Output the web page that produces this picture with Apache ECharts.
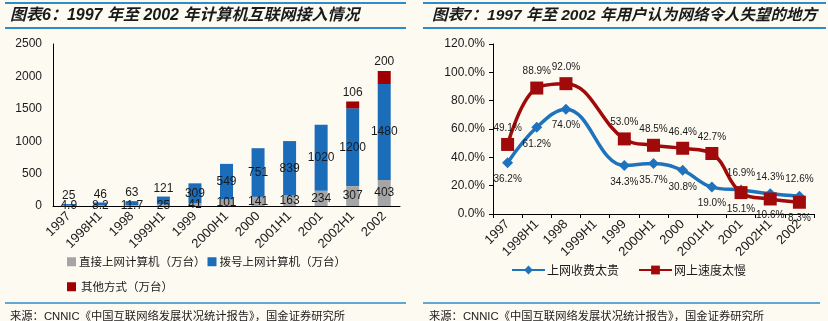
<!DOCTYPE html>
<html><head><meta charset="utf-8">
<script src="https://cdn.jsdelivr.net/npm/echarts@6/dist/echarts.min.js"></script>
<style>html,body{margin:0;padding:0;background:#fdfaf2;}#c{width:828px;height:321px;}</style>
</head><body><div id="c"></div>
<script>
const categories = ['1997','1998H1','1998','1999H1','1999','2000H1','2000','2001H1','2001','2002H1','2002'];
const directPC = [4.9, 8.2, 11.7, 25, 41, 101, 141, 163, 234, 307, 403];
const dialupPC = [25, 46, 63, 121, 309, 549, 751, 839, 1020, 1200, 1480];
const otherPC = [null, null, null, null, null, null, null, null, null, 106, 200];
const tooExpensive = [36.2, 61.2, 74.0, null, 34.3, 35.7, 30.8, 19.0, 16.9, 14.3, 12.6];
const tooSlow = [49.1, 88.9, 92.0, null, 53.0, 48.5, 46.4, 42.7, 15.1, 10.6, 8.3];
const leftTicks = [0, 500, 1000, 1500, 2000, 2500];
const rightTicks = [0, 20, 40, 60, 80, 100, 120];

const FONT = "'Liberation Sans', 'Noto Sans CJK SC', sans-serif";
const CJK = "'Noto Sans CJK SC', 'Liberation Sans', sans-serif";
const TXT = '#1a1a1a';
const BLUE_LINE = '#2f8cc8';

const chart = echarts.init(document.getElementById('c'), null, {renderer: 'canvas'});

const names = ['直接上网计算机（万台）', '拨号上网计算机（万台）', '其他方式（万台）', '上网收费太贵', '网上速度太慢'];

const dialData = dialupPC.map((v, i) => ({
  value: v,
  label: i < 4 ? {position: 'top', distance: 2} : {position: 'inside'}
}));
const expData = tooExpensive.map((v, i) => ({
  value: v,
  label: {position: (v != null && tooSlow[i] != null && v < tooSlow[i]) ? 'bottom' : 'top'}
}));
const slowData = tooSlow.map((v, i) => ({
  value: v,
  label: {position: (v != null && tooExpensive[i] != null && v > tooExpensive[i]) ? 'top' : 'bottom'}
}));

const axisLine = {show: true, lineStyle: {color: '#000', width: 1}};
const titleStyle = {fontFamily: FONT, fontSize: 16, fontStyle: 'italic', fontWeight: 'bold', color: TXT};
const titleStyle2 = Object.assign({}, titleStyle, {fontSize: 15.5});
const srcStyle = {fontFamily: FONT, fontSize: 11.3, fontWeight: 'normal', color: TXT};

chart.setOption({
  backgroundColor: '#fdfaf2',
  animation: false,
  textStyle: {fontFamily: FONT},
  title: [
    {text: '图表6：1997 年至 2002 年计算机互联网接入情况', left: 5, top: 3, textStyle: titleStyle},
    {text: '图表7：1997 年至 2002 年用户认为网络令人失望的地方', left: 427, top: 3, textStyle: titleStyle2},
    {text: '来源：CNNIC《中国互联网络发展状况统计报告》，国金证券研究所', left: 5, top: 306, textStyle: srcStyle},
    {text: '来源：CNNIC《中国互联网络发展状况统计报告》，国金证券研究所', left: 424, top: 306, textStyle: srcStyle}
  ],
  graphic: [
    {type: 'line', shape: {x1: 5, y1: 3, x2: 406, y2: 3}, style: {stroke: BLUE_LINE, lineWidth: 2}},
    {type: 'line', shape: {x1: 5, y1: 28, x2: 406, y2: 28}, style: {stroke: BLUE_LINE, lineWidth: 2}},
    {type: 'line', shape: {x1: 5, y1: 303, x2: 406, y2: 303}, style: {stroke: BLUE_LINE, lineWidth: 1.5}},
    {type: 'line', shape: {x1: 423, y1: 3, x2: 826, y2: 3}, style: {stroke: BLUE_LINE, lineWidth: 2}},
    {type: 'line', shape: {x1: 423, y1: 28, x2: 826, y2: 28}, style: {stroke: BLUE_LINE, lineWidth: 2}},
    {type: 'line', shape: {x1: 423, y1: 303, x2: 820, y2: 303}, style: {stroke: BLUE_LINE, lineWidth: 1.5}}
  ],
  legend: [
    {data: [names[0], names[1]], left: 62, top: 251, itemGap: 2, itemWidth: 9, itemHeight: 9, icon: 'rect',
     textStyle: {fontFamily: CJK, fontSize: 11.5, color: TXT, padding: [0, 0, 0, -2]}},
    {data: [names[2]], left: 62, top: 276, itemGap: 4, itemWidth: 9, itemHeight: 9, icon: 'rect',
     textStyle: {fontFamily: CJK, fontSize: 11.5, color: TXT}},
    {data: [names[3], names[4]], left: 506, top: 259, itemGap: 19, itemWidth: 33, itemHeight: 11,
     textStyle: {fontFamily: CJK, fontSize: 12, color: TXT, padding: [0, 0, 0, -3]}}
  ],
  grid: [
    {left: 53, right: 428, top: 44, bottom: 115, containLabel: false},
    {left: 493, right: 14, top: 44, bottom: 107, containLabel: false}
  ],
  xAxis: [
    {type: 'category', gridIndex: 0, data: categories, axisLine: axisLine, axisTick: {show: false},
     axisLabel: {rotate: 45, fontSize: 13, color: TXT, margin: 8, interval: 0}},
    {type: 'category', gridIndex: 1, data: categories, axisLine: axisLine,
     axisTick: {show: true, interval: 0, length: 4, lineStyle: {color: '#000'}},
     axisLabel: {rotate: 45, fontSize: 13, color: TXT, margin: 8, interval: 0}}
  ],
  yAxis: [
    {type: 'value', gridIndex: 0, min: leftTicks[0], max: leftTicks[leftTicks.length - 1], interval: 500,
     axisLine: axisLine, axisTick: {show: false}, splitLine: {show: false},
     axisLabel: {fontSize: 12, color: TXT, margin: 11, formatter: v => String(v)}},
    {type: 'value', gridIndex: 1, min: rightTicks[0], max: rightTicks[rightTicks.length - 1], interval: 20,
     axisLine: axisLine, axisTick: {show: true, length: 4, lineStyle: {color: '#000'}}, splitLine: {show: false},
     axisLabel: {fontSize: 12, color: TXT, margin: 8, formatter: v => v.toFixed(1) + '%'}}
  ],
  series: [
    {name: names[0], type: 'bar', stack: 'pc', xAxisIndex: 0, yAxisIndex: 0, data: directPC, barWidth: 13,
     itemStyle: {color: '#a5a5a5'},
     label: {show: true, position: 'inside', fontSize: 12, color: TXT}},
    {name: names[1], type: 'bar', stack: 'pc', xAxisIndex: 0, yAxisIndex: 0, data: dialData, barWidth: 13,
     itemStyle: {color: '#1b6dba'},
     label: {show: true, fontSize: 12, color: TXT}},
    {name: names[2], type: 'bar', stack: 'pc', xAxisIndex: 0, yAxisIndex: 0, data: otherPC, barWidth: 13,
     itemStyle: {color: '#a00000'},
     label: {show: true, position: 'top', distance: 3, fontSize: 12, color: TXT}},
    {name: names[3], type: 'line', xAxisIndex: 1, yAxisIndex: 1, data: expData, smooth: 0.4, connectNulls: true,
     symbol: 'diamond', symbolSize: 11, lineStyle: {width: 3.5, color: '#1f73bd'}, itemStyle: {color: '#1f73bd'},
     label: {show: true, fontSize: 10, color: TXT, distance: 6, formatter: p => p.value.toFixed(1) + '%'}},
    {name: names[4], type: 'line', xAxisIndex: 1, yAxisIndex: 1, data: slowData, smooth: 0.4, connectNulls: true,
     symbol: 'rect', symbolSize: 13, lineStyle: {width: 3.5, color: '#a00a0a'}, itemStyle: {color: '#a00a0a'},
     label: {show: true, fontSize: 10, color: TXT, distance: 5, formatter: p => p.value.toFixed(1) + '%'}}
  ]
});
</script>
</body></html>
